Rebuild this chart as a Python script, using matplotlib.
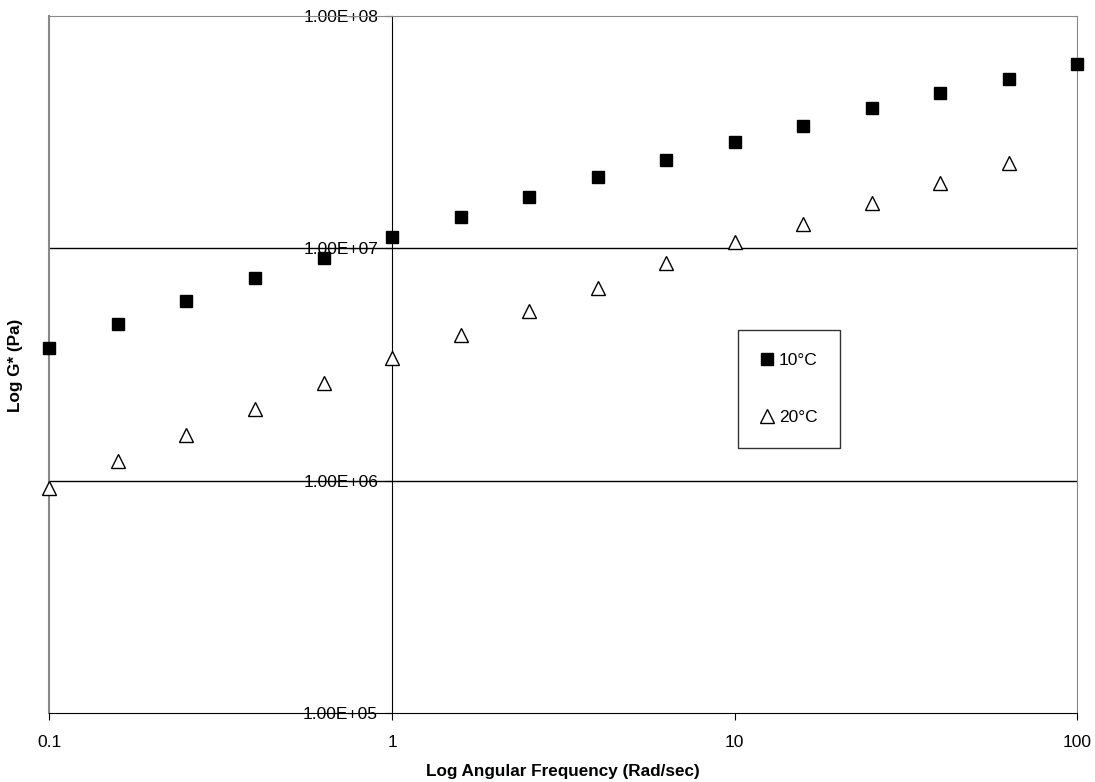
import matplotlib
matplotlib.use("Agg")
import matplotlib.pyplot as plt
from matplotlib.ticker import FixedLocator, NullLocator, FuncFormatter

# angular frequency (rad/sec), 5 points per decade
freq = [0.1, 0.158, 0.251, 0.398, 0.631, 1.0, 1.585, 2.512, 3.981, 6.31,
        10.0, 15.85, 25.12, 39.81, 63.1, 100.0]

# complex modulus G* (Pa)
g_10c = [3.72e6, 4.72e6, 5.93e6, 7.45e6, 9.08e6, 1.12e7, 1.36e7, 1.66e7,
         2.03e7, 2.40e7, 2.87e7, 3.36e7, 4.02e7, 4.67e7, 5.36e7, 6.21e7]
g_20c = [9.29e5, 1.21e6, 1.57e6, 2.03e6, 2.63e6, 3.37e6, 4.24e6, 5.37e6,
         6.75e6, 8.64e6, 1.06e7, 1.27e7, 1.57e7, 1.91e7, 2.33e7]

xticks = [0.1, 1, 10, 100]
yticks = [1e5, 1e6, 1e7, 1e8]

plt.rcParams['font.family'] = ['Liberation Sans', 'DejaVu Sans']

fig = plt.figure(figsize=(10.95, 7.82), dpi=100)
ax = fig.add_axes([0.0452, 0.0882, 0.9384, 0.8913])
ax.set_xscale('log')
ax.set_yscale('log')
ax.set_xlim(0.1, 100)
ax.set_ylim(1e5, 1e8)

# horizontal grid lines
for y in yticks[1:3]:
	ax.axhline(y, color='black', lw=1, zorder=1)

ax.plot(freq, g_10c, 's', color='black', ms=8.5, label='10°C', zorder=3, clip_on=False)
ax.plot(freq[:len(g_20c)], g_20c, '^', mfc='white', mec='black', mew=1, ms=9.5,
        label='20°C', zorder=3, clip_on=False)

# box around the plot area, y axis crosses at x = 1
for s in ['top', 'right']:
	ax.spines[s].set_color('#888888')
ax.spines['bottom'].set_color('black')
ax.spines['left'].set_position(('data', 1))
ax.spines['left'].set_color('black')
ax.axvline(0.1, color='#888888', lw=1.5, zorder=2, clip_on=False)

ax.xaxis.set_major_locator(FixedLocator(xticks))
ax.xaxis.set_minor_locator(NullLocator())
ax.yaxis.set_major_locator(FixedLocator(yticks))
ax.yaxis.set_minor_locator(NullLocator())
ax.xaxis.set_major_formatter(FuncFormatter(lambda v, p: '%g' % v))
ax.yaxis.set_major_formatter(FuncFormatter(lambda v, p: '%.2E' % v))
ax.tick_params(axis='x', direction='out', length=5, pad=11, labelsize=12.5)
ax.tick_params(axis='y', direction='out', length=5, pad=5, labelsize=12.5)

ax.set_xlabel('Log Angular Frequency (Rad/sec)', fontsize=12.3, fontweight='bold', labelpad=10)
fig.text(0.0137, 0.533, 'Log G* (Pa)', rotation=90, fontsize=12.3, fontweight='bold',
         ha='center', va='center')

leg = ax.legend(loc='upper left', bbox_to_anchor=(0.670, 0.5495), frameon=True,
                fancybox=False, edgecolor='black', fontsize=12.5, markerscale=1.0,
                handlelength=0.8, handletextpad=0.25, labelspacing=2.45,
                borderpad=1.3, borderaxespad=0)
leg.get_frame().set_linewidth(1)

fig.savefig('out.png', dpi=100)
